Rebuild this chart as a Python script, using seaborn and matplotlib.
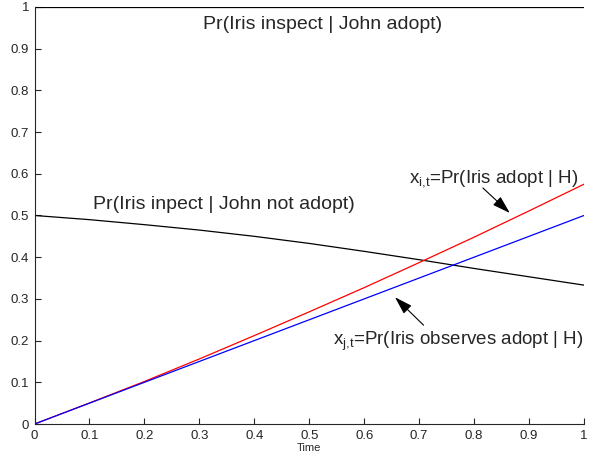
import matplotlib
matplotlib.use("Agg")
import matplotlib.pyplot as plt
import seaborn as sns
import pandas as pd

time = [0.0, 0.1, 0.2, 0.3, 0.4, 0.5, 0.6, 0.7, 0.8, 0.9, 1.0]
inspect_adopt = [1.0, 1.0, 1.0, 1.0, 1.0, 1.0, 1.0, 1.0, 1.0, 1.0, 1.0]
inspect_not_adopt = [0.5, 0.490, 0.478, 0.465, 0.450, 0.433, 0.414, 0.394, 0.373, 0.353, 0.333]
iris_adopt = [0.0, 0.0505, 0.102, 0.156, 0.212, 0.269, 0.327, 0.387, 0.448, 0.511, 0.575]
iris_observes = [0.0, 0.05, 0.1, 0.15, 0.2, 0.25, 0.3, 0.35, 0.4, 0.45, 0.5]
ticks = [0.0, 0.1, 0.2, 0.3, 0.4, 0.5, 0.6, 0.7, 0.8, 0.9, 1.0]
tick_labels = ["0", "0.1", "0.2", "0.3", "0.4", "0.5", "0.6", "0.7", "0.8", "0.9", "1"]

sns.set_style("ticks")
plt.rcParams["font.family"] = ["Liberation Sans", "DejaVu Sans"]
plt.rcParams["mathtext.fontset"] = "custom"
plt.rcParams["mathtext.rm"] = "Liberation Sans"
plt.rcParams["mathtext.it"] = "Liberation Sans:italic"

df = pd.DataFrame({
    "Time": time * 4,
    "value": inspect_adopt + inspect_not_adopt + iris_adopt + iris_observes,
    "series": (["adopt"] * len(time) + ["notadopt"] * len(time)
               + ["xi"] * len(time) + ["xj"] * len(time)),
})

fig = plt.figure(figsize=(5.89, 4.63), dpi=100)
ax = fig.add_axes([0.0586, 0.0842, 0.9329, 0.9008])
palette = {"adopt": "black", "notadopt": "black", "xi": "red", "xj": "blue"}
sns.lineplot(data=df, x="Time", y="value", hue="series", palette=palette,
             linewidth=0.9, legend=False, ax=ax)

ax.set_xlim(0, 1)
ax.set_ylim(0, 1)
ax.set_xticks(ticks)
ax.set_xticklabels(tick_labels)
ax.set_yticks(ticks)
ax.set_yticklabels(tick_labels)
ax.tick_params(direction="in", length=4, width=0.8, labelsize=9.5, pad=4)
ax.spines["top"].set_visible(False)
ax.spines["right"].set_visible(False)
for s in ("left", "bottom"):
    ax.spines[s].set_linewidth(0.8)
ax.set_xlabel("Time", fontsize=8, labelpad=1)
ax.set_ylabel("")

fs = 14
ax.text(0.524, 0.947, "Pr(Iris inspect | John adopt)", fontsize=fs,
        ha="center", va="baseline")
ax.text(0.106, 0.516, "Pr(Iris inpect | John not adopt)", fontsize=fs,
        ha="left", va="baseline")
ax.text(0.681, 0.580, r"x$_{\mathrm{i{,}t}}$=Pr(Iris adopt | H)", fontsize=13.5,
        ha="left", va="baseline")
ax.text(0.544, 0.189, r"x$_{\mathrm{j{,}t}}$=Pr(Iris observes adopt | H)", fontsize=13.5,
        ha="left", va="baseline")

arrow = dict(arrowstyle="-|>,head_length=0.55,head_width=0.17", color="black",
             lw=0.8, mutation_scale=20, shrinkA=0, shrinkB=0)
ax.annotate("", xy=(0.865, 0.506), xytext=(0.816, 0.566), arrowprops=arrow)
ax.annotate("", xy=(0.656, 0.304), xytext=(0.708, 0.237), arrowprops=arrow)

fig.savefig("out.png", dpi=100)
